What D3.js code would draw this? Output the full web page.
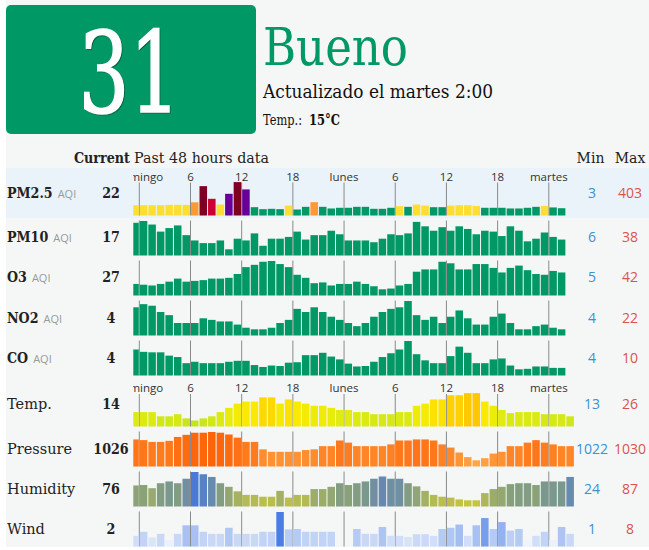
<!DOCTYPE html>
<meta charset="utf-8">
<style>
    body { margin: 0; background: #fff; }
    svg text { font-family: "DejaVu Serif", serif; fill: #222; }
    svg text.sans { font-family: "Open Sans", sans-serif; }
</style>
<svg width="649" height="550"></svg>
<script src="https://cdn.jsdelivr.net/npm/d3@7/dist/d3.min.js"></script>
<script>

    // hourly values, first bar is sabado 23:00 (clipped), then domingo 0:00 ...
    var pm25 = [66, 66, 66, 66, 71, 71, 71, 108, 344, 159, 76, 232, 403, 296, 37, 8, 13, 8, 61, 3,
        42, 110, 42, 18, 28, 28, 42, 42, 13, 13, 28, 52, 42, 76, 61, 37, 37, 61, 66, 66,
        55, 28, 28, 28, 18, 18, 28, 42, 55, 33, 22];
    var pm10 = [36, 38, 34, 26, 30, 33, 22, 16, 13, 13, 16, 6, 18, 16, 24, 10, 18, 18, 20, 26,
        17, 22, 22, 27, 23, 16, 16, 16, 14, 18, 23, 22, 24, 37, 32, 27, 31, 27, 32, 29,
        23, 27, 26, 21, 32, 27, 15, 18, 25, 20, 17];
    var o3 = [12, 11, 10, 12, 15, 19, 15, 16, 17, 19, 19, 20, 25, 34, 37, 41, 42, 38, 34, 24,
        20, 13, 14, 10, 12, 12, 15, 12, 9, 5, 6, 10, 12, 28, 31, 31, 41, 39, 31, 31,
        38, 38, 33, 27, 33, 36, 30, 25, 24, 29, 27];
    var no2 = [18, 20, 19, 15, 13, 8, 8, 8, 11, 10, 9, 9, 7, 5, 4, 4, 5, 8, 10, 17,
        15, 18, 15, 12, 10, 8, 6, 8, 12, 15, 17, 18, 22, 13, 10, 12, 8, 12, 16, 11,
        7, 7, 12, 14, 8, 4, 4, 6, 7, 5, 4];
    var co = [8.2, 7.7, 7.6, 7.6, 6.9, 6.6, 5.3, 5.6, 5.3, 5.3, 5.3, 5.6, 5.8, 5.8, 4.9, 4.5, 4.8, 4.7, 5.4, 5.5,
        7.0, 7.0, 7.5, 6.7, 6.1, 5.2, 4.6, 4.7, 5.6, 6.6, 7.4, 8.2, 10, 7.2, 5.9, 5.3, 5.3, 6.8, 8.8, 7.5,
        5.3, 5.3, 6.1, 6.3, 4.8, 4, 4.1, 4.6, 4.6, 4.3, 4.3];
    var temp = [17, 17, 17, 15, 15, 16, 14, 13, 14, 15, 17, 19, 21, 22, 22, 24, 24, 21, 23, 22,
        21, 20, 20, 19, 18, 18, 17, 17, 16, 16, 16, 17, 17, 20, 21, 23, 23, 25, 25, 26,
        26, 22, 20, 18, 16.5, 17, 17, 17, 16, 16, 16, 15];
    var pressure = [1027.9, 1027.7, 1027.2, 1027.2, 1027.5, 1028.6, 1029.2, 1029.8, 1029.8, 1030,
        1029.8, 1029.3, 1028.4, 1027.2, 1027.2, 1025.1, 1024.4, 1024.4, 1024.4, 1024.4,
        1024.9, 1025.1, 1026, 1026, 1027.6, 1027, 1026, 1026, 1026, 1026,
        1026.5, 1027.6, 1027.6, 1027.9, 1027.9, 1027.6, 1026.5, 1025.6, 1024.2, 1022.9,
        1022, 1022.6, 1023.9, 1024.4, 1026, 1026, 1027, 1027.7, 1027, 1026.5, 1026, 1026];
    var humidity = [57, 58, 51, 62, 66, 62, 72, 87, 82, 76, 62, 54, 44, 36, 36, 32, 32, 45, 30, 36,
        36, 49, 49, 54, 62, 58, 62, 66, 72, 77, 72, 72, 62, 55, 45, 36, 32, 30, 26, 24,
        24, 40, 49, 54, 60, 62, 62, 58, 66, 66, 66, 76];
    var wind = [2.1, 3.1, 1.7, 2.6, 1.1, 2.6, 4.7, 4.7, 3.1, 2.6, 2.6, 4.1, 2.6, 2.6, 2.6, 3.1, 3.1, 8, 3.7, 3.8,
        3.1, 3.1, 3.1, 3.1, null, null, 3.8, 2.6, 2.6, 4.3, 2.1, 2.1, 1.8, 2.5, 2.5, 2.1, 3.8, 4.1, 4.9, 2.1,
        4.7, 6.5, 3.8, 5.5, 3.4, 3.8, 1, 2.1, 3.1, 1.1, 4.3, 2.6];

    var rowNames = ["PM2.5", "PM10", "O3", "NO2", "CO", "Temp.", "Pressure", "Humidity", "Wind"];
    var currentVals = [22, 17, 27, 4, 4, 14, 1026, 76, 2];
    var minVals = [3, 6, 5, 4, 4, 13, 1022, 24, 1];
    var maxVals = [403, 38, 42, 22, 10, 26, 1030, 87, 8];

    var tickHours = [0, 6, 12, 18, 24, 30, 36, 42, 48];
    var tickLabels = ["domingo", "6", "12", "18", "lunes", "6", "12", "18", "martes"];
    var firstHour = -1;

    var svg = d3.select("svg");

    //colour scales
    var aqiColor = d3.scaleThreshold().domain([51, 101, 151, 201, 301])
        .range(["#009966", "#ffde33", "#ff9933", "#cc0033", "#660099", "#7e0023"]);
    var tempColor = d3.scaleLinear().domain([13, 18, 22, 26])
        .range(["#c4e41e", "#e2eb10", "#fbea00", "#ffc800"]);
    var pressColor = d3.scaleLinear().domain([1022, 1030]).range(["#ffa646", "#ff6408"]);
    var humColor = d3.scaleLinear().domain([24, 40, 60, 75, 87])
        .range(["#c6c540", "#aeb65a", "#86a07c", "#6a8cab", "#4a7ad6"]);
    var windColor = d3.scaleLinear().domain([1, 2, 5, 8])
        .range(["#eef3fd", "#d3dff9", "#a3bdf1", "#4b7de6"]);

    var series = [pm25, pm10, o3, no2, co, temp, pressure, humidity, wind];
    var colors = [aqiColor, aqiColor, aqiColor, aqiColor, aqiColor, tempColor, pressColor, humColor, windColor];

    // layout for each row
    var bottoms = [215.5, 255.5, 295.5, 335.5, 375.5, 426.5, 466.5, 506.5, 546.5];
    var labelYs = [198, 242, 282, 322.5, 363, 408.5, 454, 493.5, 534];
    var tickTops = [182.5, 220.5, 260.5, 300.5, 340.5, 394, 431.5, 471.5, 511.5];

    var x = d3.scaleLinear().domain([0, 48]).range([139.3, 548.8]);

    function squeeze(sel, f) {
        sel.each(function () {
            var w = this.getComputedTextLength();
            d3.select(this).attr("textLength", w * f).attr("lengthAdjust", "spacingAndGlyphs");
        });
    }

    // backgrounds
    svg.append("rect").attr("x", 6).attr("y", 0).attr("width", 643).attr("height", 547).attr("fill", "#f5f7f7");
    svg.append("rect").attr("x", 6).attr("y", 168).attr("width", 643).attr("height", 50).attr("fill", "#ebf3fa");

    svg.append("clipPath").attr("id", "plot").append("rect")
        .attr("x", 133.3).attr("y", 0).attr("width", 500).attr("height", 550);

    // header
    svg.append("rect").attr("x", 6).attr("y", 5).attr("width", 250).attr("height", 129)
        .attr("rx", 5).attr("fill", "#009966");
    svg.append("text").attr("x", 130.5).attr("y", 113).attr("text-anchor", "middle")
        .style("font-size", "112px").style("fill", "rgba(0,0,0,0.25)")
        .style("stroke", "rgba(0,0,0,0.25)").style("stroke-width", 1.6)
        .attr("textLength", 102).attr("lengthAdjust", "spacingAndGlyphs").text("31");
    svg.append("text").attr("x", 129.5).attr("y", 112).attr("text-anchor", "middle")
        .style("font-size", "112px").style("fill", "#fff")
        .style("stroke", "#fff").style("stroke-width", 1.6)
        .attr("textLength", 102).attr("lengthAdjust", "spacingAndGlyphs").text("31");

    svg.append("text").attr("x", 263).attr("y", 65).style("font-size", "52px").style("fill", "#009966")
        .attr("textLength", 145).attr("lengthAdjust", "spacingAndGlyphs").text("Bueno");
    svg.append("text").attr("x", 263).attr("y", 98).style("font-size", "18.5px").style("fill", "#111")
        .attr("textLength", 230).attr("lengthAdjust", "spacingAndGlyphs").text("Actualizado el martes 2:00");
    svg.append("text").attr("x", 263).attr("y", 125).style("font-size", "14.5px").style("fill", "#111")
        .attr("textLength", 39).attr("lengthAdjust", "spacingAndGlyphs").text("Temp.:");
    svg.append("text").attr("x", 309).attr("y", 125).style("font-size", "14.5px").style("fill", "#111")
        .style("font-weight", "bold").attr("textLength", 31).attr("lengthAdjust", "spacingAndGlyphs").text("15°C");

    svg.append("text").attr("x", 74).attr("y", 163).style("font-size", "14px").style("font-weight", "bold")
        .attr("textLength", 56).attr("lengthAdjust", "spacingAndGlyphs").text("Current");
    svg.append("text").attr("x", 134).attr("y", 163).style("font-size", "14px")
        .attr("textLength", 135).attr("lengthAdjust", "spacingAndGlyphs").text("Past 48 hours data");
    svg.append("text").attr("x", 590.5).attr("y", 163).attr("text-anchor", "middle").style("font-size", "14px").text("Min");
    svg.append("text").attr("x", 630).attr("y", 163).attr("text-anchor", "middle").style("font-size", "14px").text("Max");

    // rows
    series.forEach(function (data, i) {
        var bottom = bottoms[i];
        var hScale = d3.scaleLinear().domain([minVals[i], maxVals[i]])
            .range(i === 0 || i === 5 ? [6, 33.4] : [6.2, 34.5]);
        var bars = data.map(function (v, k) {
            return {h: firstHour + k, v: v};
        }).filter(function (d) {
            return d.v !== null;
        });

        var g = svg.append("g").attr("clip-path", "url(#plot)");

        g.selectAll("line").data(tickHours).enter().append("line")
            .attr("x1", function (d) { return x(d); })
            .attr("x2", function (d) { return x(d); })
            .attr("y1", tickTops[i]).attr("y2", bottom)
            .attr("stroke", "#8a8a8a").attr("stroke-width", 1);

        g.selectAll("rect").data(bars).enter().append("rect")
            .attr("x", function (d) { return x(d.h) + 0.5; })
            .attr("width", function (d) { return x(d.h + 1) - x(d.h) - 1; })
            .attr("y", function (d) { return bottom - hScale(d.v); })
            .attr("height", function (d) { return hScale(d.v); })
            .attr("fill", function (d) { return colors[i](d.v); });

        if (i === 0 || i === 5) {
            g.selectAll("text").data(tickHours).enter().append("text")
                .attr("class", "sans")
                .attr("x", function (d) { return x(d); })
                .attr("y", i === 0 ? 181 : 391.5)
                .attr("text-anchor", "middle")
                .style("font-size", "11.5px").style("fill", "#333")
                .text(function (d, j) { return tickLabels[j]; });
        }

        // label
        var isAqi = i < 5;
        var lab = svg.append("text").attr("x", 7).attr("y", labelYs[i])
            .style("font-size", "14.5px").style("font-weight", isAqi ? "bold" : "normal")
            .text(rowNames[i]);
        if (isAqi) {
            squeeze(lab, 0.875);
            svg.append("text").attr("class", "sans")
                .attr("x", 7 + (+lab.attr("textLength")) + 5).attr("y", labelYs[i])
                .style("font-size", "11px").style("fill", "#999").text("AQI");
        }

        var cur = svg.append("text").attr("x", 111).attr("y", labelYs[i]).attr("text-anchor", "middle")
            .style("font-size", "14.5px").style("font-weight", "bold").text(currentVals[i]);
        squeeze(cur, 0.875);

        svg.append("text").attr("class", "sans").attr("x", 592).attr("y", labelYs[i])
            .attr("text-anchor", "middle").style("font-size", "14px").style("fill", "#3a8fd6")
            .text(minVals[i]);
        svg.append("text").attr("class", "sans").attr("x", 630).attr("y", labelYs[i])
            .attr("text-anchor", "middle").style("font-size", "14px").style("fill", "#d9534f")
            .text(maxVals[i]);
    });

</script>
